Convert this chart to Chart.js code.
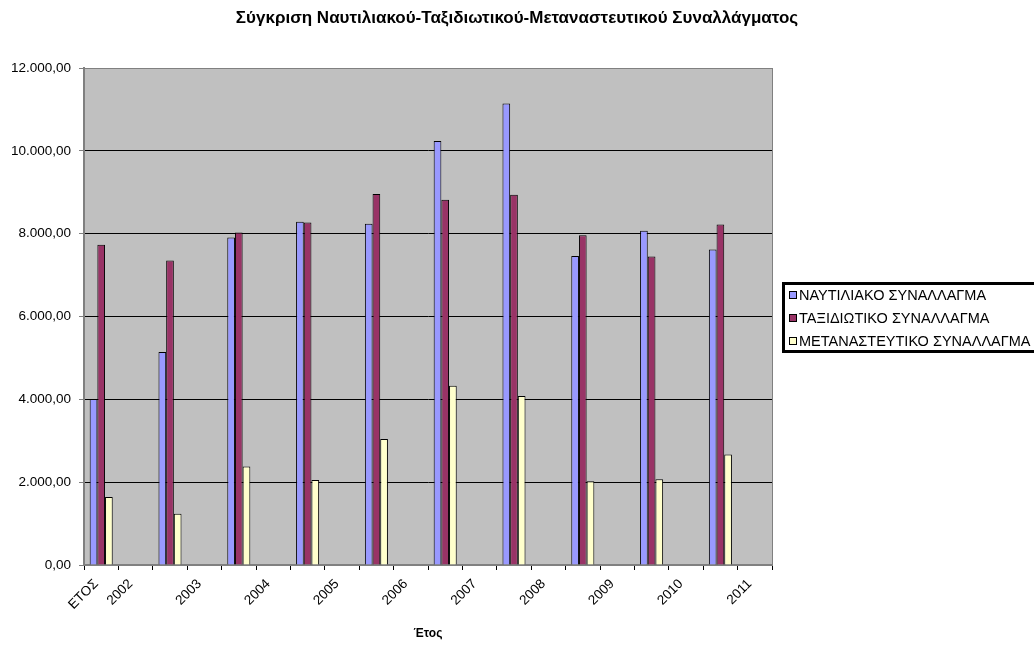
<!DOCTYPE html>
<html>
<head>
<meta charset="utf-8">
<script src="https://cdn.jsdelivr.net/npm/chart.js@4"></script>
<style>
  html, body { margin: 0; padding: 0; background: #fff; }
</style>
</head>
<body>
<canvas id="myChart" width="1034" height="645"></canvas>
<script>
// categories: data rows alternate with the year-label rows (as in the source sheet)
const categories = ['ΕΤΟΣ', '2002', '', '2003', '', '2004', '', '2005', '', '2006',
                    '', '2007', '', '2008', '', '2009', '', '2010', '', '2011'];

const nautiliako = [4010, null, 5140, null, 7910, null, 8290, null, 8240, null,
                    10240, null, 11140, null, 7460, null, 8070, null, 7620, null];
const taxidiotiko = [7730, null, 7350, null, 8030, null, 8270, null, 8960, null,
                     8820, null, 8940, null, 7960, null, 7450, null, 8220, null];
const metanasteftiko = [1640, null, 1240, null, 2380, null, 2050, null, 3040, null,
                        4330, null, 4080, null, 2020, null, 2070, null, 2670, null];

const yTicks = [0, 2000, 4000, 6000, 8000, 10000, 12000];

const chartTitle = 'Σύγκριση Ναυτιλιακού-Ταξιδιωτικού-Μεταναστευτικού Συναλλάγματος';

Chart.defaults.font.family = '"Liberation Sans", Arial, sans-serif';
Chart.defaults.color = '#000';

// greek number format: 12.000,00
function fmt(v) {
    const parts = Number(v).toFixed(2).split('.');
    parts[0] = parts[0].replace(/\B(?=(\d{3})+(?!\d))/g, '.');
    return parts[0] + ',' + parts[1];
}

const plotBg = {
    id: 'plotBg',
    beforeDraw(chart) {
        const a = chart.chartArea, c = chart.ctx;
        c.save();
        c.fillStyle = '#C0C0C0';
        c.fillRect(a.left, a.top, a.right - a.left, a.bottom - a.top);
        c.restore();
    },
    afterDraw(chart) {
        const a = chart.chartArea, c = chart.ctx;
        c.save();
        c.strokeStyle = '#808080';
        c.lineWidth = 1;
        c.strokeRect(a.left + 0.5, a.top + 0.5, a.right - a.left, a.bottom - a.top);
        // title centred on the whole page, not the plot
        c.font = 'bold 17px "Liberation Sans", Arial, sans-serif';
        c.fillStyle = '#000';
        c.textAlign = 'center';
        c.textBaseline = 'middle';
        c.fillText(chartTitle, chart.width / 2, 18);
        c.restore();
    }
};

// excel-like boxed legend, partly cut by the right edge
const boxLegend = {
    id: 'boxLegend',
    afterDraw(chart) {
        const c = chart.ctx;
        c.save();
        c.strokeStyle = '#000';
        c.lineWidth = 3;
        c.strokeRect(783.5, 283.5, 270, 68);
        c.font = '14.5px "Liberation Sans", Arial, sans-serif';
        c.textBaseline = 'middle';
        chart.data.datasets.forEach((ds, i) => {
            const y = 295 + i * 23;
            c.fillStyle = ds.backgroundColor;
            c.fillRect(789, y - 4, 7, 7);
            c.lineWidth = 1;
            c.strokeStyle = '#000';
            c.strokeRect(789.5, y - 3.5, 7, 7);
            c.fillStyle = '#000';
            c.fillText(ds.label, 799, y + 1);
        });
        c.restore();
    }
};

new Chart(document.getElementById('myChart'), {
    type: 'bar',
    data: {
        labels: categories,
        datasets: [{
            label: 'ΝΑΥΤΙΛΙΑΚΟ ΣΥΝΑΛΛΑΓΜΑ',
            data: nautiliako,
            backgroundColor: '#9999FF',
            borderColor: '#000',
            borderWidth: 1
        },
        {
            label: 'ΤΑΞΙΔΙΩΤΙΚΟ ΣΥΝΑΛΛΑΓΜΑ',
            data: taxidiotiko,
            backgroundColor: '#993366',
            borderColor: '#000',
            borderWidth: 1
        },
        {
            label: 'ΜΕΤΑΝΑΣΤΕΥΤΙΚΟ ΣΥΝΑΛΛΑΓΜΑ',
            data: metanasteftiko,
            backgroundColor: '#FFFFCC',
            borderColor: '#000',
            borderWidth: 1
        }]
    },
    options: {
        responsive: false,
        animation: false,
        categoryPercentage: 0.67,
        barPercentage: 1.0,
        layout: {
            padding: { left: 0, right: 262, top: 68, bottom: 0 }
        },
        plugins: {
            legend: { display: false },
            tooltip: { enabled: false },
            title: { display: false }
        },
        scales: {
            x: {
                grid: {
                    offset: true,
                    drawOnChartArea: false,
                    tickLength: 5,
                    tickColor: '#000'
                },
                border: { color: '#808080', width: 2 },
                ticks: {
                    autoSkip: false,
                    maxRotation: 45,
                    minRotation: 45,
                    padding: 6,
                    labelOffset: -5,
                    font: { size: 13.5 },
                    color: '#000'
                },
                title: {
                    display: true,
                    text: 'Έτος',
                    font: { size: 12, weight: 'bold' },
                    color: '#000',
                    padding: { top: 0, bottom: 4 }
                },
                afterFit(scale) { scale.height = 80; }
            },
            y: {
                min: 0,
                max: 12000,
                afterBuildTicks(scale) {
                    scale.ticks = yTicks.map(v => ({ value: v }));
                },
                grid: {
                    color: '#000',
                    tickColor: '#808080',
                    tickLength: 5
                },
                border: { color: '#808080', width: 2 },
                ticks: {
                    padding: 8,
                    font: { size: 13.5 },
                    color: '#000',
                    callback: function(value) {
                        return fmt(value);
                    }
                },
                afterFit(scale) { scale.width = 84; }
            }
        }
    },
    plugins: [plotBg, boxLegend]
});
</script>
</body>
</html>
